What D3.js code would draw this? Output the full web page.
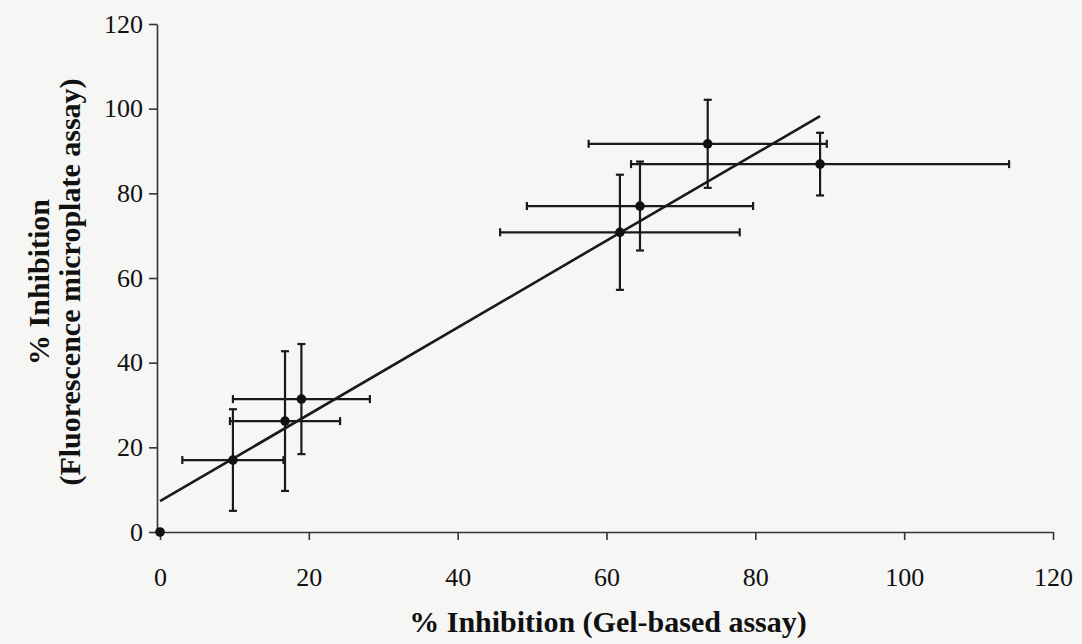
<!DOCTYPE html>
<html><head><meta charset="utf-8">
<script src="https://cdn.jsdelivr.net/npm/d3@7"></script>
<style>
html,body{margin:0;padding:0;background:#f6f6f4;}
svg{display:block;}
text{font-family:"Liberation Serif","Times New Roman",serif;fill:#111;}
</style></head>
<body>
<svg id="c" width="1082" height="644"></svg>
<script>
// Data
const gelX     = [0, 9.8, 16.8, 19.0, 61.8, 64.5, 73.6, 88.7];
const fluorY   = [0, 17.0, 26.2, 31.4, 70.8, 77.0, 91.7, 86.9];
const xErr     = [0, 6.8, 7.4, 9.2, 16.1, 15.2, 16.0, 25.4];
const yErr     = [0, 12.0, 16.5, 13.0, 13.6, 10.5, 10.4, 7.4];
const xTicks   = [0, 20, 40, 60, 80, 100, 120];
const yTicks   = [0, 20, 40, 60, 80, 100, 120];
const xTitle   = "% Inhibition (Gel-based assay)";
const yTitle1  = "% Inhibition";
const yTitle2  = "(Fluorescence microplate assay)";

const svg = d3.select("#c");
const x = d3.scaleLinear().domain([0,120]).range([160,1053]);
const y = d3.scaleLinear().domain([0,120]).range([532,24]);
const ink = "#1a1a1a";

// axes
const gx = svg.append("g").attr("transform","translate(0,532)")
  .call(d3.axisBottom(x).tickValues(xTicks).tickSize(8).tickPadding(28).tickSizeOuter(0));
const gy = svg.append("g").attr("transform","translate(157,0)")
  .call(d3.axisLeft(y).tickValues(yTicks).tickSize(8).tickPadding(6).tickSizeOuter(0));
[gx,gy].forEach(g=>{
  g.attr("font-family",null).attr("font-size",null);
  g.select(".domain").attr("stroke","#333").attr("stroke-width",1.6);
  g.selectAll(".tick line").attr("stroke","#333").attr("stroke-width",1.6);
  g.selectAll(".tick text").style("font-family","'Liberation Serif', serif").style("font-size","26px").attr("fill","#111");
});

// trendline (least squares fit of the points)
const n = gelX.length;
const mx = d3.mean(gelX), my = d3.mean(fluorY);
let sxy=0, sxx=0;
for(let i=0;i<n;i++){ sxy+=(gelX[i]-mx)*(fluorY[i]-my); sxx+=(gelX[i]-mx)**2; }
const slope = sxy/sxx, icpt = my - slope*mx;
const xMax = d3.max(gelX);
svg.append("line")
  .attr("x1",x(0)).attr("y1",y(icpt))
  .attr("x2",x(xMax)).attr("y2",y(icpt+slope*xMax))
  .attr("stroke",ink).attr("stroke-width",2.6);

// error bars
const cap = 4;
const eb = svg.append("g").attr("stroke",ink).attr("stroke-width",2.2);
gelX.forEach((gx0,i)=>{
  if(xErr[i]>0){
    eb.append("line").attr("x1",x(gx0-xErr[i])).attr("x2",x(gx0+xErr[i])).attr("y1",y(fluorY[i])).attr("y2",y(fluorY[i]));
    eb.append("line").attr("x1",x(gx0-xErr[i])).attr("x2",x(gx0-xErr[i])).attr("y1",y(fluorY[i])-cap).attr("y2",y(fluorY[i])+cap);
    eb.append("line").attr("x1",x(gx0+xErr[i])).attr("x2",x(gx0+xErr[i])).attr("y1",y(fluorY[i])-cap).attr("y2",y(fluorY[i])+cap);
  }
  if(yErr[i]>0){
    eb.append("line").attr("x1",x(gx0)).attr("x2",x(gx0)).attr("y1",y(fluorY[i]-yErr[i])).attr("y2",y(fluorY[i]+yErr[i]));
    eb.append("line").attr("x1",x(gx0)-cap).attr("x2",x(gx0)+cap).attr("y1",y(fluorY[i]-yErr[i])).attr("y2",y(fluorY[i]-yErr[i]));
    eb.append("line").attr("x1",x(gx0)-cap).attr("x2",x(gx0)+cap).attr("y1",y(fluorY[i]+yErr[i])).attr("y2",y(fluorY[i]+yErr[i]));
  }
});

// points
svg.append("g").selectAll("circle").data(gelX).join("circle")
  .attr("cx",(d)=>x(d)).attr("cy",(d,i)=>y(fluorY[i])).attr("r",4.8).attr("fill","#111");

// titles
svg.append("text").attr("x",608).attr("y",632).attr("text-anchor","middle")
  .style("font-size","30px").style("font-weight","bold").text(xTitle);
const yt = svg.append("text").attr("transform","translate(0,282) rotate(-90)").attr("text-anchor","middle")
  .style("font-size","30px").style("font-weight","bold");
yt.append("tspan").attr("x",0).attr("y",49).text(yTitle1);
yt.append("tspan").attr("x",0).attr("y",80).text(yTitle2);
</script>
</body></html>
